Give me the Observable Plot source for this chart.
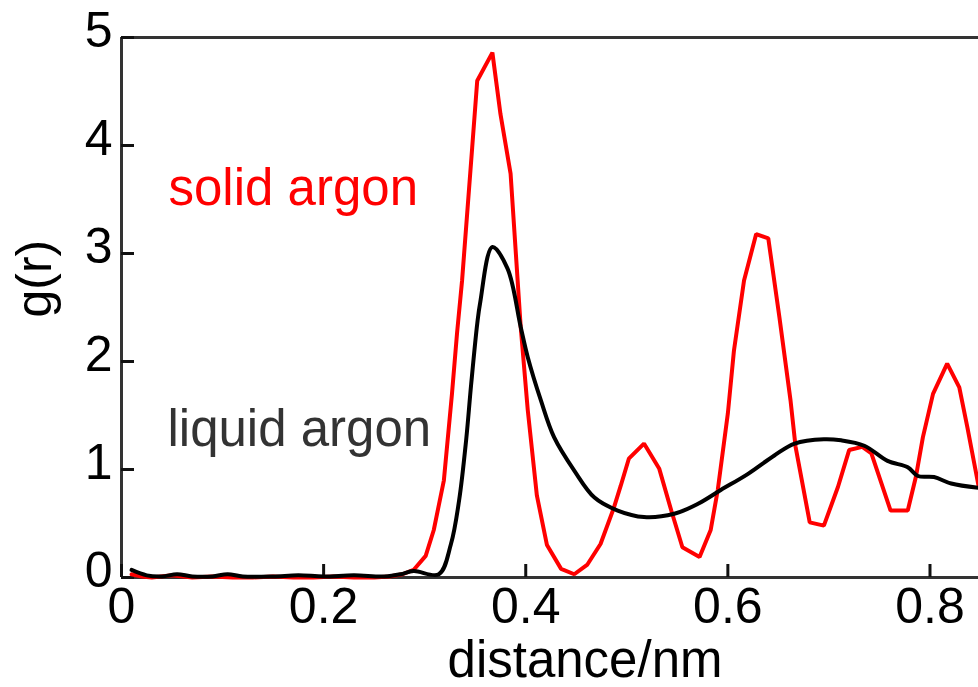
<!DOCTYPE html>
<html><head><meta charset="utf-8">
<script src="https://cdn.jsdelivr.net/npm/d3@7"></script>
<script src="https://cdn.jsdelivr.net/npm/@observablehq/plot@0.6"></script>
<style>html,body{margin:0;padding:0;background:#fff} svg{display:block}</style>
</head><body><div id="chart"></div>
<script>
// solid argon g(r)
const solidX = [0.010,0.020,0.030,0.050,0.070,0.090,0.110,0.130,0.150,0.170,0.190,0.210,0.230,0.250,0.265,0.278,0.289,0.301,0.309,0.319,0.327,0.332,0.337,0.347,0.352,0.367,0.375,0.385,0.395,0.402,0.411,0.421,0.435,0.448,0.461,0.474,0.487,0.494,0.502,0.517,0.532,0.544,0.555,0.572,0.583,0.590,0.600,0.606,0.616,0.628,0.640,0.651,0.662,0.667,0.681,0.695,0.709,0.720,0.733,0.742,0.761,0.778,0.786,0.793,0.803,0.817,0.829,0.837,0.848];
const solidY = [0.03,0.01,0.00,0.02,0.00,0.01,0.00,0.00,0.01,0.00,0.00,0.01,0.00,0.00,0.01,0.03,0.07,0.20,0.44,0.90,1.70,2.26,2.75,3.98,4.60,4.86,4.29,3.74,2.32,1.55,0.76,0.30,0.08,0.03,0.12,0.31,0.64,0.85,1.10,1.24,1.01,0.62,0.28,0.19,0.44,0.81,1.52,2.10,2.75,3.18,3.14,2.41,1.64,1.21,0.51,0.48,0.84,1.18,1.21,1.15,0.62,0.62,0.93,1.30,1.70,1.98,1.76,1.39,0.85];
// liquid argon g(r)
const liquidX = [0.010,0.025,0.040,0.055,0.070,0.090,0.105,0.120,0.150,0.175,0.200,0.230,0.260,0.276,0.289,0.314,0.326,0.334,0.341,0.346,0.352,0.355,0.367,0.382,0.395,0.402,0.415,0.428,0.448,0.468,0.491,0.517,0.547,0.570,0.593,0.620,0.646,0.666,0.695,0.712,0.735,0.758,0.778,0.788,0.804,0.821,0.848];
const liquidY = [0.07,0.02,0.01,0.03,0.01,0.01,0.03,0.01,0.01,0.02,0.01,0.02,0.01,0.03,0.06,0.03,0.31,0.71,1.27,1.79,2.35,2.55,3.06,2.86,2.32,2.04,1.64,1.30,0.99,0.74,0.62,0.56,0.59,0.68,0.81,0.96,1.13,1.24,1.28,1.27,1.22,1.08,1.02,0.94,0.93,0.87,0.83];

const xTicks = [0, 0.2, 0.4, 0.6, 0.8];
const yTicks = [0, 1, 2, 3, 4, 5];
const xDomain = [0, 0.848];
const yDomain = [0, 5];
const xLabel = "distance/nm";
const yLabel = "g(r)";
const seriesNames = ["solid argon", "liquid argon"];
const seriesLabelX = [0.0465, 0.0455];
const seriesLabelY = [3.45, 1.22];

const solid = solidX.map((x, i) => ({x, y: solidY[i]}));
const liquid = liquidX.map((x, i) => ({x, y: liquidY[i]}));
const labelRows = seriesNames.map((t, i) => ({t, x: seriesLabelX[i], y: seriesLabelY[i], c: i === 0 ? "#ff0000" : "#333333"}));

const font = "'Liberation Sans', Arial, Helvetica, sans-serif";
const W = 978, H = 687, mL = 121, mR = 0, mT = 37, mB = 110, tickLen = 13;

const chart = Plot.plot({
  width: W,
  height: H,
  marginLeft: mL,
  marginRight: mR,
  marginTop: mT,
  marginBottom: mB,
  style: {fontFamily: font, background: "#fff", color: "#000"},
  x: {domain: xDomain},
  y: {domain: yDomain},
  marks: [
    Plot.ruleY([yDomain[0], yDomain[1]], {stroke: "#333", strokeWidth: 3}),
    Plot.ruleX([xDomain[0]], {stroke: "#333", strokeWidth: 3}),
    // inward ticks
    Plot.ruleX(xTicks, {x: d => d, insetTop: (H - mT - mB) - tickLen, stroke: "#111", strokeWidth: 3}),
    Plot.ruleY(yTicks, {y: d => d, insetRight: (W - mL - mR) - tickLen, stroke: "#111", strokeWidth: 3}),
    // tick labels
    Plot.axisX({ticks: xTicks, tickSize: 0, tickPadding: 10, fontSize: 50, tickFormat: d => String(d), label: null, fill: "#000"}),
    Plot.axisY({ticks: yTicks, tickSize: 0, tickPadding: 9, dy: -7, fontSize: 50, tickFormat: d => String(d), label: null, fill: "#000"}),
    Plot.line(solid, {x: "x", y: "y", stroke: "#ff0000", strokeWidth: 4, strokeLinejoin: "miter"}),
    Plot.line(liquid, {x: "x", y: "y", stroke: "#000", strokeWidth: 4, curve: "catmull-rom"}),
    Plot.text(labelRows, {x: "x", y: "y", text: "t", fill: "c", fontSize: 51, textAnchor: "start", lineAnchor: "bottom"}),
    Plot.text([xLabel], {frameAnchor: "bottom", text: d => d, dx: 35, dy: 99, lineAnchor: "bottom", fontSize: 51, fill: "#000"}),
    Plot.text([yLabel], {frameAnchor: "left", text: d => d, rotate: -90, dx: -71, dy: 10, lineAnchor: "bottom", fontSize: 50, fill: "#000"})
  ]
});
document.getElementById("chart").appendChild(chart);
</script>
</body></html>
